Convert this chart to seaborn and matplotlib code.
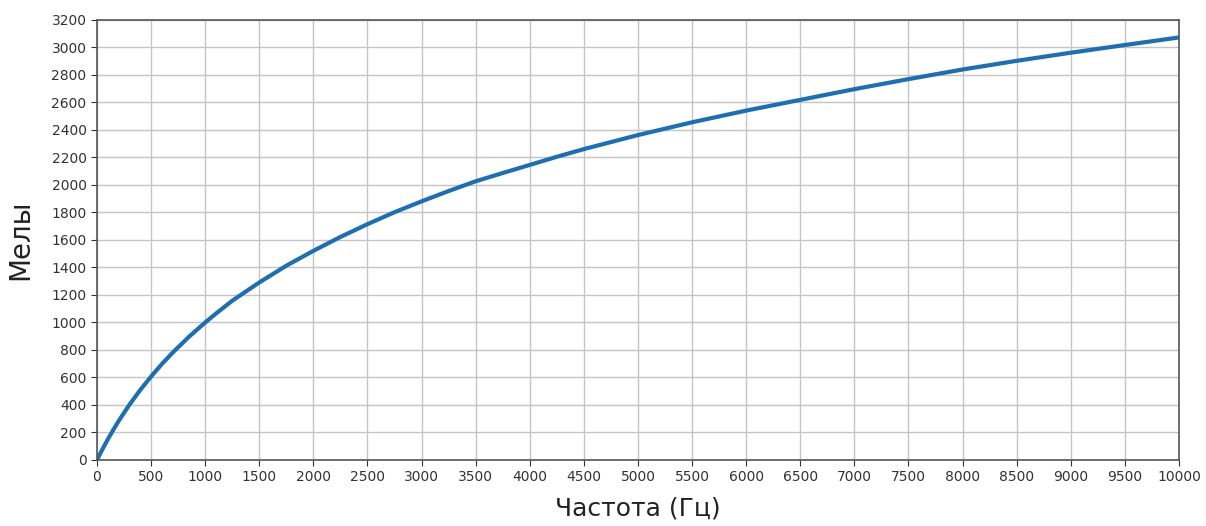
import matplotlib
matplotlib.use("Agg")
import matplotlib.pyplot as plt
import seaborn as sns
import pandas as pd

# значения
частота = [0, 50, 100, 150, 200, 300, 400, 500, 600, 700, 850, 1000, 1100, 1250,
           1500, 1750, 2000, 2250, 2500, 2750, 3000, 3250, 3500, 3750, 4000,
           4250, 4500, 5000, 5500, 6000, 6500, 7000, 7500, 8000, 8500, 9000,
           9500, 10000]
мелы = [0, 77, 150, 218, 283, 402, 509, 607, 698, 781, 896, 1000, 1065, 1158,
        1291, 1413, 1521, 1622, 1715, 1802, 1881, 1956, 2027, 2087, 2146,
        2205, 2261, 2363, 2456, 2541, 2619, 2697, 2770, 2840, 2903, 2962,
        3018, 3073]

x_ticks = list(range(0, 10001, 500))
y_ticks = list(range(0, 3201, 200))

df = pd.DataFrame({"Частота": частота, "Мелы": мелы})

sns.set_style("white")
plt.rcParams["font.family"] = ["DejaVu Sans"]

fig = plt.figure(figsize=(12.06, 5.26), dpi=100)
ax = fig.add_axes([0.0804, 0.1255, 0.8972, 0.8365])

sns.lineplot(data=df, x="Частота", y="Мелы", ax=ax, color="#1f6fb0", linewidth=3)

ax.set_xlim(0, 10000)
ax.set_ylim(0, 3200)
ax.set_xticks(x_ticks)
ax.set_yticks(y_ticks)
ax.tick_params(axis="both", labelsize=10, length=4, colors="#333333", direction="out")
ax.tick_params(bottom=True, left=True)
ax.grid(True, color="#c4c4c4", linewidth=1)
for s in ax.spines.values():
    s.set_color("#555555")
    s.set_linewidth(1.2)

ax.set_xlabel("Частота (Гц)", fontsize=18, color="#222222", labelpad=9)
ax.set_ylabel("Мелы", fontsize=20, color="#222222", labelpad=12)

fig.savefig("out.png", dpi=100)
